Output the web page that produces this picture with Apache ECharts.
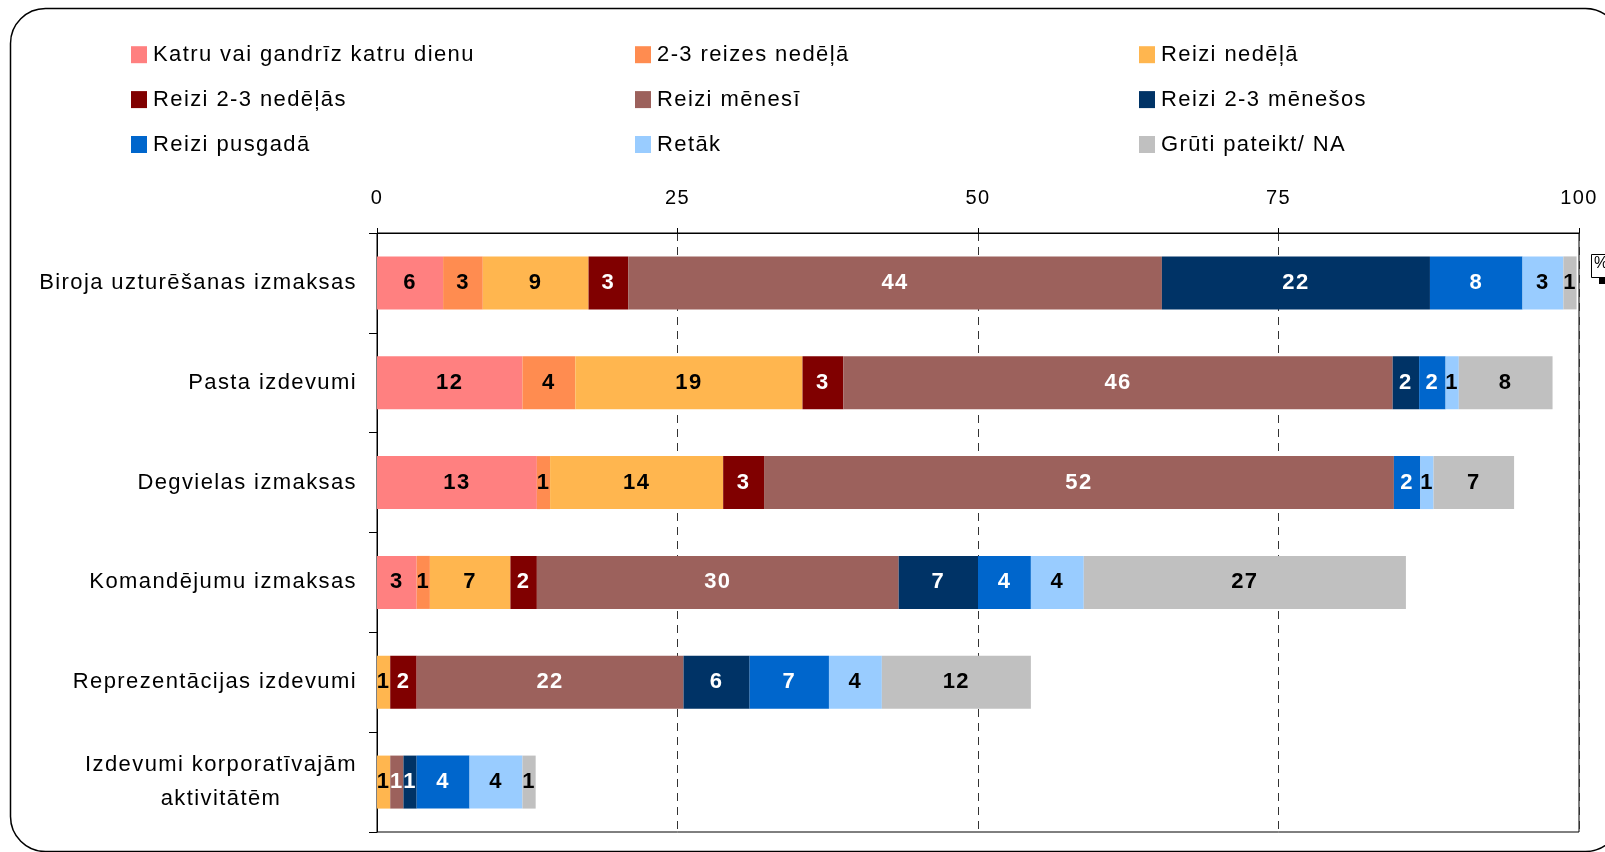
<!DOCTYPE html>
<html>
<head>
<meta charset="utf-8">
<script src="https://cdn.jsdelivr.net/npm/echarts@6/dist/echarts.min.js"></script>
<style>
html,body{margin:0;padding:0;background:#fff;}
#chart{width:1605px;height:852px;}
</style>
</head>
<body>
<div id="chart"></div>
<script>
// slight letter spacing, as in the reference rendering
(function(){
  var P = CanvasRenderingContext2D.prototype;
  var LS = '1.4px';
  var f = P.fillText, m = P.measureText;
  P.fillText = function(){ try{ this.letterSpacing = LS; }catch(e){} return f.apply(this, arguments); };
  P.measureText = function(){ try{ this.letterSpacing = LS; }catch(e){} return m.apply(this, arguments); };
})();

var categories = ['Biroja uzturēšanas izmaksas', 'Pasta izdevumi', 'Degvielas izmaksas', 'Komandējumu izmaksas', 'Reprezentācijas izdevumi', 'Izdevumi korporatīvajām\naktivitātēm'];
var seriesNames = ['Katru vai gandrīz katru dienu', '2-3 reizes nedēļā', 'Reizi nedēļā', 'Reizi 2-3 nedēļās', 'Reizi mēnesī', 'Reizi 2-3 mēnešos', 'Reizi pusgadā', 'Retāk', 'Grūti pateikt/ NA'];
var katru    = [5.5, 12.1, 13.3, 3.3, 0, 0];
var reizes23 = [3.3, 4.4, 1.1, 1.1, 0, 0];
var nedela   = [8.8, 18.9, 14.4, 6.7, 1.1, 1.1];
var ned23    = [3.3, 3.4, 3.4, 2.2, 2.2, 0];
var menesi   = [44.4, 45.7, 52.4, 30.1, 22.2, 1.1];
var men23    = [22.3, 2.2, 0, 6.6, 5.5, 1.1];
var pusgada  = [7.7, 2.2, 2.2, 4.4, 6.6, 4.4];
var retak    = [3.4, 1.1, 1.1, 4.4, 4.4, 4.4];
var na       = [1.1, 7.8, 6.7, 26.8, 12.4, 1.1];
var xTicks = [0, 25, 50, 75, 100];

var seriesData = [katru, reizes23, nedela, ned23, menesi, men23, pusgada, retak, na];
var colors = ['#FF8080', '#FF8C50', '#FFB64F', '#800000', '#9C615C', '#003366', '#0066CC', '#99CCFF', '#C0C0C0'];
var labelColors = ['#000', '#000', '#000', '#fff', '#fff', '#fff', '#fff', '#000', '#000'];
var FONT = '"Liberation Sans", Arial, sans-serif';

var chart = echarts.init(document.getElementById('chart'), null, {renderer: 'canvas'});

var series = seriesNames.map(function(name, i){
  return {
    name: name,
    type: 'bar',
    stack: 'total',
    barWidth: 53,
    data: seriesData[i],
    itemStyle: {color: colors[i]},
    label: {
      show: true,
      position: 'inside',
      color: labelColors[i],
      fontFamily: FONT,
      fontWeight: 'bold',
      fontSize: 22,
      formatter: function(p){ return p.value > 0.4 ? String(Math.round(p.value)) : ''; }
    },
    emphasis: {disabled: true}
  };
});

function legendCol(idx, left){
  return {
    orient: 'vertical',
    left: left,
    top: 38,
    itemGap: 21.5,
    itemWidth: 16,
    itemHeight: 17,
    icon: 'rect',
    selectedMode: false,
    data: idx.map(function(k){ return seriesNames[k]; }),
    textStyle: {fontFamily: FONT, fontSize: 22, color: '#000', lineHeight: 22, padding: [0,0,0,1]}
  };
}

chart.setOption({
  animation: false,
  backgroundColor: '#fff',
  color: colors,
  textStyle: {fontFamily: FONT},
  legend: [legendCol([0,3,6], 126), legendCol([1,4,7], 630), legendCol([2,5,8], 1134)],
  grid: {left: 377, right: 26, top: 233, bottom: 20, show: true, borderColor: '#000', borderWidth: 1, backgroundColor: 'transparent'},
  xAxis: {
    type: 'value',
    position: 'top',
    min: xTicks[0],
    max: xTicks[xTicks.length - 1],
    interval: xTicks[1] - xTicks[0],
    axisLine: {show: true, lineStyle: {color: '#000', width: 1}},
    axisTick: {show: true, length: 5, lineStyle: {color: '#000'}},
    axisLabel: {fontFamily: FONT, fontSize: 20, color: '#000', margin: 24},
    splitLine: {show: true, lineStyle: {color: '#333', type: [8, 6], width: 1}}
  },
  yAxis: {
    type: 'category',
    inverse: true,
    data: categories,
    axisLine: {show: true, lineStyle: {color: '#000', width: 1}},
    axisTick: {show: true, length: 8, lineStyle: {color: '#000'}},
    axisLabel: {
      fontFamily: FONT, fontSize: 22, color: '#000', margin: 20,
      formatter: function(v){
        if (v.indexOf('\n') >= 0) {
          return v.split('\n').map(function(s){ return '{c|' + s + '}'; }).join('\n');
        }
        return v;
      },
      rich: {c: {fontFamily: FONT, fontSize: 22, color: '#000', width: 272, align: 'center', lineHeight: 34}}
    }
  },
  series: series,
  graphic: [
    {type: 'rect', shape: {x: 10.5, y: 8.5, width: 1610, height: 843, r: 35}, style: {fill: 'none', stroke: '#000', lineWidth: 1.5}, z: 100, silent: true},
    {type: 'rect', shape: {x: 1591.5, y: 254.5, width: 40, height: 23}, style: {fill: '#fff', stroke: '#000', lineWidth: 1}, z: 100, silent: true},
    {type: 'text', x: 1594, y: 255, style: {text: '%', fontFamily: FONT, fontSize: 16, fill: '#000'}, z: 101, silent: true},
    {type: 'rect', shape: {x: 1599, y: 278, width: 8, height: 6}, style: {fill: '#000'}, z: 100, silent: true}
  ]
});
</script>
</body>
</html>
